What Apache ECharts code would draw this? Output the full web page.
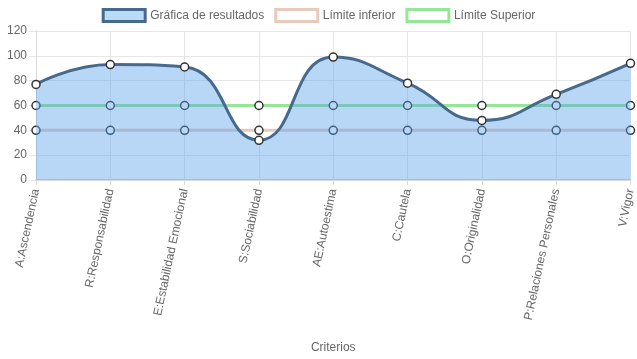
<!DOCTYPE html>
<html><head><meta charset="utf-8">
<script src="https://cdn.jsdelivr.net/npm/echarts@6/dist/echarts.min.js"></script>
<style>html,body{margin:0;padding:0;background:#fff}#c{width:637px;height:359px}</style>
</head><body><div id="c"></div>
<script>
const categories = ["A:Ascendencia","R:Responsabilidad","E:Estabilidad Emocional","S:Sociabilidad","AE:Autoestima","C:Cautela","O:Originalidad","P:Relaciones Personales","V:Vigor"];
const resultados = [77, 93, 91, 32, 99, 78, 48, 69, 94];
const limiteInferior = [40, 40, 40, 40, 40, 40, 40, 40, 40];
const limiteSuperior = [60, 60, 60, 60, 60, 60, 60, 60, 60];
const yTicks = {min: 0, max: 120, interval: 20};

const font = 'Liberation Sans, Arial, sans-serif';
const pointStyle = {color: '#fff', borderColor: '#333', borderWidth: 1.5};
const chart = echarts.init(document.getElementById('c'));
chart.setOption({
  animation: false,
  textStyle: {fontFamily: font},
  legend: {
    top: 3, left: 'center', itemWidth: 42, itemHeight: 12, itemGap: 10,
    textStyle: {color: '#666', fontSize: 12, fontFamily: font},
    data: [
      {name: 'Gráfica de resultados', icon: 'rect', itemStyle: {color: '#b9dbf7', borderColor: '#47698c', borderWidth: 3}},
      {name: 'Límite inferior', icon: 'rect', itemStyle: {color: '#fff', borderColor: '#e8cabc', borderWidth: 3}},
      {name: 'Límite Superior', icon: 'rect', itemStyle: {color: '#fff', borderColor: '#97e697', borderWidth: 3}}
    ]
  },
  grid: {left: 36, right: 4, top: 31, bottom: 179, containLabel: false},
  xAxis: {
    type: 'category', data: categories, boundaryGap: false,
    name: 'Criterios', nameLocation: 'middle', nameGap: 162,
    nameTextStyle: {color: '#666', fontSize: 12, fontFamily: font},
    axisLine: {show: true, lineStyle: {color: '#d9d9d9', width: 2}},
    axisTick: {show: true, length: 5, alignWithLabel: true, lineStyle: {color: '#d9d9d9'}},
    axisLabel: {rotate: 78, color: '#666', fontSize: 12, fontFamily: font, margin: 9, interval: 0},
    splitLine: {show: true, lineStyle: {color: '#e6e6e6'}}
  },
  yAxis: {
    type: 'value', min: yTicks.min, max: yTicks.max, interval: yTicks.interval,
    axisLine: {show: true, lineStyle: {color: '#d9d9d9'}},
    axisTick: {show: true, length: 7, lineStyle: {color: '#e6e6e6'}},
    axisLabel: {color: '#666', fontSize: 12, fontFamily: font, margin: 9},
    splitLine: {show: true, lineStyle: {color: '#e6e6e6'}}
  },
  series: [
    {name: 'Límite inferior', type: 'line', data: limiteInferior, z: 2,
     symbol: 'circle', symbolSize: 8, itemStyle: pointStyle,
     lineStyle: {color: '#e8cabc', width: 3}},
    {name: 'Límite Superior', type: 'line', data: limiteSuperior, z: 2,
     symbol: 'circle', symbolSize: 8, itemStyle: pointStyle,
     lineStyle: {color: '#97e697', width: 3}},
    {name: 'Gráfica de resultados', type: 'line', data: resultados, z: 3, smooth: 0.5, smoothMonotone: 'none',
     symbol: 'circle', symbolSize: 8, itemStyle: pointStyle,
     lineStyle: {color: '#47698c', width: 3},
     areaStyle: {color: 'rgba(85,160,235,0.42)', opacity: 1, origin: 'start'}}
  ]
});
</script></body></html>
